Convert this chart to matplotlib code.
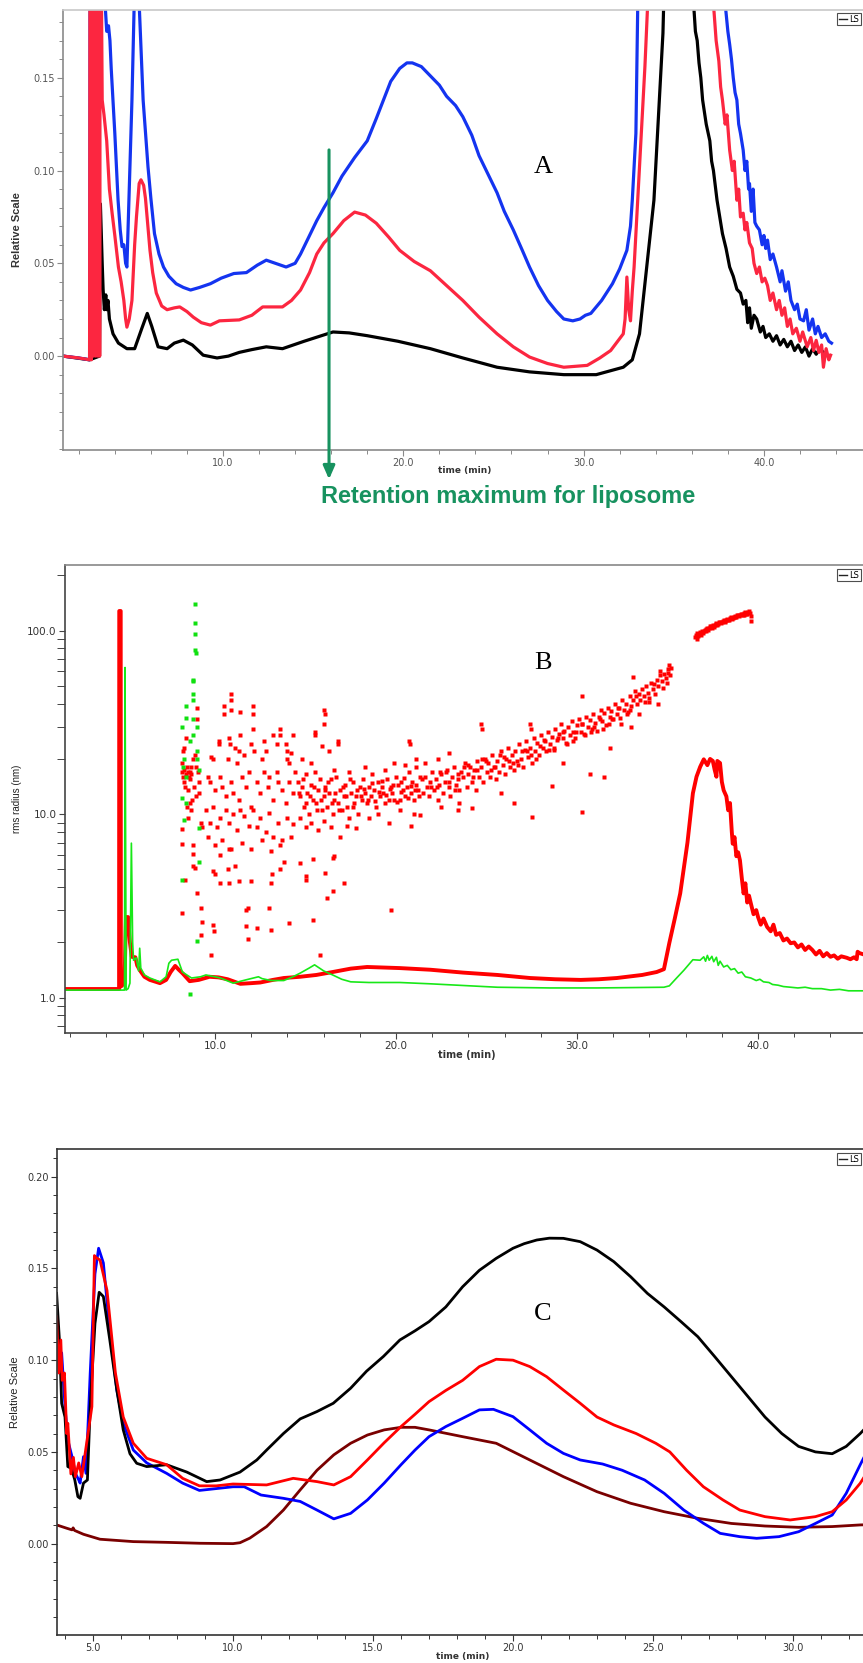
import numpy as np
import matplotlib
matplotlib.use("Agg")
import matplotlib.pyplot as plt
from matplotlib.ticker import MultipleLocator, FixedLocator, FormatStrFormatter, LogLocator, FuncFormatter, NullFormatter
from matplotlib.lines import Line2D

# ---------------- Panel A data (time min, relative scale) ----------------
a_black_t = [1.13, 2.6, 3.15, 3.2, 3.3, 3.35, 3.42, 3.5, 3.55, 3.62, 3.7, 3.9, 4.2, 4.67, 5.1, 5.5, 5.8, 6.05, 6.4, 6.9, 7.3, 7.8, 8.3, 8.9, 9.67, 10.3, 10.9, 11.6, 12.4, 13.3, 14.5, 15.3, 16.1, 17.0, 18.0, 19.7, 21.5, 23.3, 25.2, 27.0, 28.9, 30.7, 32.2, 32.7, 33.1, 33.5, 33.9, 34.1, 34.4, 34.6, 35.3, 35.9,
             36.1, 36.2, 36.3, 36.4, 36.5, 36.6, 36.8, 37.0, 37.1, 37.2, 37.4, 37.55, 37.7, 37.9, 38.1, 38.3, 38.5, 38.7, 38.85, 39.0, 39.1, 39.2, 39.3, 39.45, 39.6, 39.8, 39.95, 40.1, 40.3, 40.5, 40.7, 40.9, 41.1, 41.3, 41.5, 41.7, 41.9, 42.1, 42.3, 42.5, 42.7, 42.9, 43.1, 43.3]
a_black_v = [0.0, -0.002, 0.0, 0.082, 0.05, 0.036, 0.025, 0.033, 0.025, 0.03, 0.02, 0.012, 0.007, 0.004, 0.004, 0.015, 0.023, 0.016, 0.005, 0.004, 0.007, 0.0086, 0.006, 0.0005, -0.001, 0.0, 0.002, 0.0035, 0.005, 0.004, 0.008, 0.0105, 0.013, 0.0125, 0.011, 0.008, 0.004, -0.001, -0.006, -0.0085, -0.010, -0.010, -0.006, -0.002, 0.012, 0.048, 0.084, 0.12, 0.174, 0.25, 0.35, 0.25,
             0.19, 0.175, 0.17, 0.158, 0.15, 0.138, 0.125, 0.116, 0.105, 0.1, 0.084, 0.075, 0.066, 0.058, 0.048, 0.043, 0.036, 0.034, 0.028, 0.03, 0.018, 0.026, 0.015, 0.022, 0.02, 0.013, 0.016, 0.01, 0.012, 0.008, 0.011, 0.006, 0.009, 0.005, 0.008, 0.003, 0.006, 0.002, 0.005, 0.0, 0.004, 0.001, 0.004, 0.002]

a_blue_t = [1.13, 2.0, 2.6, 2.65, 3.3, 3.46, 3.55, 3.65, 3.73, 3.8, 3.9, 4.0, 4.1, 4.18, 4.3, 4.4, 4.5, 4.6, 4.67, 4.8, 4.95, 5.05, 5.1, 5.2, 5.3, 5.35, 5.57, 5.84, 6.0, 6.2, 6.45, 6.7, 7.0, 7.4, 7.8, 8.2, 8.7, 9.3, 9.9, 10.6, 11.3, 11.9, 12.4, 12.9, 13.5, 14.0, 14.3, 14.7, 15.2, 15.6, 16.1, 16.6, 17.3, 18.0, 18.5, 18.9, 19.3, 19.8, 20.2, 20.5, 21.0, 21.5, 22.0, 22.4, 22.9, 23.3, 23.8, 24.2, 24.7, 25.2, 25.6, 26.1, 26.6, 27.0, 27.5, 28.0, 28.5, 28.9, 29.4, 29.8, 30.1, 30.4, 31.0, 31.6, 32.0, 32.4, 32.6, 32.7, 32.9, 33.0, 33.5, 35.5, 37.5,
            37.85, 38.0, 38.1, 38.2, 38.3, 38.4, 38.5, 38.6, 38.7, 38.85, 38.95, 39.05, 39.15, 39.2, 39.3, 39.4, 39.5, 39.6, 39.75, 39.9, 40.0, 40.1, 40.2, 40.35, 40.5, 40.7, 40.9, 41.0, 41.2, 41.35, 41.5, 41.7, 41.85, 42.0, 42.2, 42.35, 42.5, 42.7, 42.85, 43.0, 43.2, 43.4, 43.6, 43.75]
a_blue_v = [0.0, -0.001, -0.002, 0.4, 0.4, 0.19, 0.175, 0.178, 0.17, 0.155, 0.138, 0.12, 0.1, 0.084, 0.068, 0.059, 0.06, 0.05, 0.048, 0.09, 0.138, 0.18, 0.2, 0.3, 0.25, 0.19, 0.138, 0.102, 0.085, 0.066, 0.055, 0.048, 0.043, 0.039, 0.037, 0.0356, 0.037, 0.039, 0.042, 0.0445, 0.045, 0.049, 0.0517, 0.05, 0.048, 0.05, 0.055, 0.063, 0.073, 0.08, 0.088, 0.097, 0.107, 0.116, 0.128, 0.138, 0.148, 0.155, 0.158, 0.158, 0.156, 0.151, 0.146, 0.14, 0.135, 0.129, 0.119, 0.108, 0.098, 0.088, 0.078, 0.068, 0.057, 0.048, 0.038, 0.030, 0.024, 0.020, 0.019, 0.020, 0.022, 0.023, 0.03, 0.039, 0.047, 0.057, 0.07, 0.084, 0.12, 0.19, 0.35, 0.45, 0.3,
            0.19, 0.175, 0.168, 0.16, 0.15, 0.142, 0.138, 0.125, 0.12, 0.111, 0.1, 0.105, 0.09, 0.093, 0.078, 0.09, 0.072, 0.07, 0.068, 0.06, 0.065, 0.058, 0.0625, 0.052, 0.055, 0.048, 0.04, 0.046, 0.035, 0.04, 0.03, 0.025, 0.028, 0.02, 0.019, 0.025, 0.014, 0.02, 0.012, 0.016, 0.01, 0.012, 0.008, 0.007]

a_red_t = [1.13, 2.0, 2.6, 2.64, 2.70, 2.76, 2.82, 2.88, 2.94, 3.0, 3.06, 3.12, 3.16, 3.2, 3.22, 3.3, 3.4, 3.55, 3.7, 3.85, 4.0, 4.2, 4.35, 4.5, 4.6, 4.67, 4.8, 4.95, 5.1, 5.2, 5.35, 5.45, 5.6, 5.7, 5.95, 6.1, 6.3, 6.6, 6.9, 7.3, 7.6, 8.0, 8.35, 8.8, 9.3, 9.8, 10.9, 11.6, 12.2, 13.3, 13.8, 14.3, 14.8, 15.2, 15.6, 16.1, 16.7, 17.3, 17.9, 18.5, 19.2, 19.8, 20.6, 21.5, 22.4, 23.3, 24.2, 25.2, 26.1, 27.0, 28.0, 28.9, 30.2, 30.9, 31.5, 32.2, 32.3, 32.4, 32.5, 32.6, 32.7, 32.8, 33.1, 33.4, 33.6, 34.5, 35.5, 36.5,
           37.2, 37.35, 37.5, 37.6, 37.7, 37.85, 37.95, 38.1, 38.25, 38.35, 38.5, 38.6, 38.7, 38.85, 38.95, 39.05, 39.2, 39.35, 39.45, 39.6, 39.75, 39.9, 40.05, 40.2, 40.35, 40.5, 40.7, 40.85, 41.0, 41.15, 41.3, 41.45, 41.6, 41.8, 42.0, 42.15, 42.4, 42.6, 42.75, 42.9, 43.05, 43.2, 43.3, 43.45, 43.6, 43.7]
a_red_v = [0.0, -0.001, -0.002, 0.4, -0.002, 0.4, 0.0, 0.4, 0.0, 0.4, 0.0, 0.4, 0.0, 0.4, 0.25, 0.138, 0.13, 0.116, 0.09, 0.077, 0.065, 0.048, 0.04, 0.030, 0.02, 0.0156, 0.02, 0.030, 0.06, 0.075, 0.093, 0.095, 0.092, 0.085, 0.057, 0.045, 0.034, 0.027, 0.025, 0.026, 0.0265, 0.024, 0.021, 0.018, 0.0167, 0.019, 0.0195, 0.022, 0.0265, 0.0265, 0.03, 0.0356, 0.045, 0.055, 0.061, 0.066, 0.073, 0.0776, 0.076, 0.0716, 0.064, 0.057, 0.051, 0.046, 0.038, 0.030, 0.021, 0.012, 0.005, -0.0005, -0.004, -0.006, -0.005, -0.001, 0.003, 0.012, 0.02, 0.0426, 0.025, 0.019, 0.035, 0.048, 0.102, 0.156, 0.20, 0.35, 0.4, 0.3,
           0.19, 0.17, 0.159, 0.145, 0.138, 0.125, 0.13, 0.111, 0.1, 0.105, 0.084, 0.09, 0.075, 0.077, 0.068, 0.072, 0.061, 0.058, 0.05, 0.0445, 0.048, 0.04, 0.042, 0.038, 0.03, 0.034, 0.025, 0.03, 0.022, 0.026, 0.016, 0.02, 0.012, 0.015, 0.008, 0.013, 0.005, 0.01, 0.003, 0.0085, 0.002, 0.006, -0.006, 0.004, -0.002, 0.0005]

# ---------------- Panel B data (time min, rms radius nm) ----------------
b_red_t = [1.7, 4.70, 4.71, 4.79, 4.80, 5.0, 5.08, 5.2, 5.3, 5.4, 5.6, 5.7, 5.85, 6.1, 6.4, 6.96, 7.3, 7.55, 7.8, 8.0, 8.2, 8.6, 9.1, 9.7, 10.2, 10.7, 11.4, 12.0, 12.5, 13.2, 13.8, 14.7, 15.6, 16.5, 17.5, 18.4, 19.3, 20.2, 21.9, 23.7, 25.6, 27.4, 28.8, 30.2, 31.2, 32.2, 33.6, 34.4, 34.8, 35.1, 35.4, 35.7, 36.1, 36.4, 36.6, 36.8, 37.0, 37.2, 37.35, 37.5, 37.6, 37.7, 37.75, 37.9, 38.0, 38.1, 38.25, 38.35, 38.45, 38.55, 38.6, 38.7, 38.8, 38.9, 39.0, 39.1, 39.2, 39.3, 39.4, 39.5, 39.6, 39.75, 39.9, 40.0, 40.15, 40.3, 40.5, 40.7, 40.85, 41.0, 41.2, 41.4, 41.6, 41.8, 42.0, 42.2, 42.4, 42.6, 42.8, 43.0, 43.2, 43.4, 43.6, 43.8, 44.0, 44.2, 44.4, 44.6, 44.9, 45.1, 45.3, 45.45, 45.5, 45.6, 46.0]
b_red_r = [1.115, 1.115, 128, 128, 1.15, 1.2, 2.75, 2.75, 2.0, 1.67, 1.66, 1.5, 1.41, 1.3, 1.25, 1.2, 1.25, 1.38, 1.49, 1.42, 1.36, 1.23, 1.25, 1.30, 1.29, 1.26, 1.19, 1.2, 1.21, 1.25, 1.28, 1.3, 1.33, 1.38, 1.44, 1.47, 1.46, 1.45, 1.42, 1.37, 1.33, 1.28, 1.26, 1.25, 1.26, 1.28, 1.33, 1.38, 1.43, 1.99, 2.7, 3.7, 7.0, 13.0, 16, 18.1, 19.9, 18.5, 20, 19.5, 17.5, 16, 19.5, 19, 15, 13.5, 12.5, 10.5, 11.5, 8, 6.9, 7.5, 5.9, 6.2, 5.6, 4.5, 3.7, 4.2, 3.3, 3.6, 3.27, 2.85, 3.0, 2.75, 2.5, 2.7, 2.43, 2.3, 2.5, 2.2, 2.25, 2.05, 2.1, 1.98, 2.0, 1.88, 1.95, 1.82, 1.9, 1.82, 1.72, 1.8, 1.68, 1.75, 1.67, 1.7, 1.63, 1.68, 1.65, 1.62, 1.66, 1.62, 1.78, 1.75, 1.7]

b_green_t = [1.7, 5.0, 5.03, 5.09, 5.2, 5.3, 5.38, 5.45, 5.5, 5.65, 5.78, 5.84, 5.9, 6.1, 6.4, 6.96, 7.3, 7.45, 7.6, 7.95, 8.2, 8.7, 9.2, 9.5, 10.0, 10.3, 11.0, 11.7, 12.4, 12.6, 13.1, 13.8, 14.3, 14.7, 15.2, 15.5, 16.0, 16.5, 17.0, 17.5, 18.5, 20.2, 21.9, 25.6, 28.5, 31.1, 33.0, 34.8, 35.1, 35.5, 35.9, 36.4, 36.8, 37.0, 37.1, 37.2, 37.3, 37.45, 37.55, 37.7, 37.8, 37.9, 38.1, 38.3, 38.5, 38.7, 38.9, 39.1, 39.3, 39.6, 39.9, 40.1, 40.3, 40.6, 40.8, 41.1, 41.4, 41.8, 42.2, 42.6, 43.0, 43.5, 44.0, 44.5, 45.0, 46.0]
b_green_r = [1.1, 1.1, 63, 1.1, 1.12, 1.2, 6.95, 2.0, 1.6, 1.65, 1.4, 1.86, 1.45, 1.33, 1.28, 1.22, 1.3, 1.54, 1.6, 1.62, 1.38, 1.28, 1.3, 1.33, 1.3, 1.28, 1.2, 1.25, 1.3, 1.27, 1.24, 1.24, 1.3, 1.36, 1.45, 1.51, 1.4, 1.33, 1.26, 1.22, 1.21, 1.21, 1.19, 1.14, 1.13, 1.13, 1.135, 1.14, 1.16, 1.28, 1.41, 1.61, 1.6, 1.67, 1.58, 1.7, 1.6, 1.68, 1.57, 1.66, 1.5, 1.58, 1.47, 1.5, 1.42, 1.44, 1.36, 1.38, 1.3, 1.28, 1.24, 1.26, 1.22, 1.21, 1.18, 1.17, 1.15, 1.14, 1.13, 1.14, 1.12, 1.12, 1.10, 1.11, 1.09, 1.09]

b_gdot_t = [8.9, 8.9, 8.9, 8.9, 8.95, 8.8, 8.8, 8.8, 8.8, 8.4, 8.4, 8.2, 8.3, 8.25, 8.6, 8.8, 8.8, 9.0, 9.0, 9.1, 8.4, 8.2, 8.4, 8.3, 9.0, 9.1, 8.2, 9.1, 9.0, 8.6]
b_gdot_r = [140, 110, 96, 78, 76, 54, 53, 45, 42, 39, 33.6, 30, 20, 18, 25, 33, 27, 30, 22, 17.4, 16, 12.2, 11.5, 9.3, 20, 8.4, 4.4, 5.5, 2.04, 1.05]

b_dot_t = [
    8.2, 8.2, 8.25, 8.3, 8.3, 8.25, 8.3, 8.4, 8.35, 8.4, 8.45, 8.5, 8.55, 8.6, 8.6, 8.65, 8.7, 8.75, 8.8, 8.85, 8.9, 8.95, 9.0, 9.0, 9.05, 9.1, 9.1,
    8.2, 8.18, 8.2, 8.35, 8.45, 8.5, 8.6, 8.8, 8.8, 8.8, 8.9, 9.0, 9.25, 9.3, 9.25, 9.2, 9.3, 8.7, 8.95, 8.5,
    10.9, 10.9, 10.9, 10.5, 10.5, 11.4, 12.1, 12.1, 10.2, 10.2, 10.8, 10.85, 11.4, 11.1, 11.35, 11.6, 12.1, 12.0, 12.15, 12.7, 12.6, 12.8, 13.2, 13.6, 13.6, 13.4, 13.9, 13.95, 14.0, 14.2, 14.3, 14.1, 9.9, 9.8, 10.7, 11.2,
    9.6, 9.7, 10.0, 10.3, 10.4, 10.6, 10.9, 11.0, 11.3, 11.5, 11.7, 11.9, 12.0, 12.3, 12.5, 12.7, 12.9, 13.0, 13.2, 13.4, 13.5, 13.7, 13.9, 14.1, 14.3, 14.4,
    9.5, 9.7, 9.9, 10.1, 10.3, 10.6, 10.8, 11.0, 11.2, 11.4, 11.6, 11.9, 12.1, 12.3, 12.5, 12.8, 13.0, 13.2, 13.5, 13.7, 14.0, 14.3,
    9.6, 10.0, 10.4, 10.9, 11.5, 12.0, 12.6, 13.1, 13.6, 14.2,
    9.9, 10.0, 10.3, 10.8, 10.7, 11.1, 10.8, 10.3, 11.3, 11.7, 11.8, 11.7, 11.8, 12.0, 12.3, 13.0, 13.1, 13.1, 13.15, 13.6, 13.8, 14.1, 9.9, 9.95, 9.76, 14.7, 15.0, 15.05, 15.4, 15.4, 15.8, 16.1, 16.2, 16.5, 17.1, 16.5, 16.55, 19.7,
    16.0, 16.05, 16.0, 15.5, 15.55, 16.8, 16.8, 15.9, 16.3, 14.8, 15.3, 20.7, 20.75, 21.1, 21.1,
    14.6, 14.7, 14.8, 14.9, 15.0, 15.1, 15.2, 15.3, 15.4, 15.5, 15.6, 15.7, 15.8, 15.9, 16.0, 14.7, 15.0, 15.3, 15.7, 16.0,
    16.1, 16.2, 16.3, 16.4, 16.5, 16.6, 16.7, 16.8, 16.9, 17.0, 17.1, 17.2, 17.3, 17.4, 17.5, 17.6, 17.7, 17.8, 17.9, 18.0, 16.4, 16.9, 17.3, 17.8, 16.6, 17.4,
    18.1, 18.2, 18.3, 18.4, 18.5, 18.6, 18.7, 18.8, 18.9, 19.0, 19.1, 19.2, 19.3, 19.4, 19.5, 19.6, 19.7, 19.8, 19.9, 20.0, 20.1, 20.2, 20.3, 20.4, 20.5, 20.6, 20.7, 20.8, 20.9, 21.0, 21.1, 21.2, 21.3, 18.5, 19.0, 19.6, 20.2, 20.8, 21.0, 18.3, 19.4, 20.5, 19.9,
    14.65, 14.85, 15.05, 15.25, 15.45, 15.65, 15.85, 16.05, 16.25, 16.45, 16.65, 16.85, 17.05, 17.25, 17.45, 17.65, 17.85, 18.05, 18.25, 18.45, 18.65, 18.85, 19.05, 19.25, 19.45, 19.65, 19.85, 20.05, 20.25, 20.45, 20.65, 20.85, 21.05, 21.25,
    21.5, 21.6, 21.7, 21.8, 21.9, 22.0, 22.1, 22.2, 22.3, 22.4, 22.5, 22.6, 22.7, 22.8, 22.9, 23.0, 23.1, 23.2, 23.3, 23.4, 23.5, 23.6, 23.7, 23.8, 23.9, 24.0, 24.1, 24.2, 24.3, 24.4, 24.5, 24.6, 24.7, 24.8, 24.9, 25.0, 25.1, 25.2, 25.3, 25.4, 25.5, 25.6, 25.7, 25.8, 25.9, 26.0, 26.1, 26.2, 26.3, 26.4, 26.5, 26.6, 26.7, 26.8, 26.9, 27.0, 27.1, 27.2, 27.3, 27.4, 27.5, 27.6, 27.7, 27.8, 27.9, 28.0, 28.1, 28.2, 28.3, 28.4, 28.5, 28.6, 28.7, 28.8, 28.9, 29.0, 29.1, 29.2, 29.3, 29.4, 29.5, 29.6, 29.7, 29.8, 29.9, 30.0, 30.1, 30.2, 30.3, 30.4, 30.5, 30.6, 30.7, 30.8, 30.9, 31.0, 31.1, 31.2, 31.3, 31.4, 31.5, 31.6, 31.7, 31.8, 31.9, 32.0, 32.1, 32.2, 32.3, 32.4, 32.5, 32.6, 32.7, 32.8, 32.9, 33.0, 33.1, 33.2, 33.3, 33.4, 33.5, 33.6, 33.7, 33.8, 33.9, 34.0, 34.1, 34.2, 34.3, 34.4, 34.5, 34.6, 34.7, 34.8, 34.9, 35.0, 35.05, 35.1, 35.15, 35.2,
    24.7, 24.75, 27.4, 27.45, 30.3, 33.1, 34.6, 27.5, 30.3, 31.5, 21.3, 24.2, 26.5, 28.6, 30.7, 22.5, 23.5, 25.8, 29.2, 31.8, 33.0, 21.6, 22.3, 22.9, 23.4,
    21.45, 21.95, 22.45, 22.95, 23.45, 23.95, 24.45, 24.95, 25.45, 25.95, 26.45, 26.95, 27.45, 27.95, 28.45, 28.95, 29.45, 29.95, 30.45, 30.95, 31.45, 31.95, 32.45, 32.95, 33.45, 33.95, 34.45, 34.95,
    22.25, 22.75, 23.25, 23.75, 24.25, 24.75, 25.25, 25.75, 26.25, 26.75, 27.25, 27.75, 28.25, 28.75, 29.25, 29.75, 30.25, 30.75, 31.25, 31.75, 32.25, 32.75, 33.25, 33.75, 34.25, 34.75,
    36.5, 36.55, 36.6, 36.65, 36.7, 36.8, 36.85, 36.9, 37.0, 37.1, 37.15, 37.2, 37.3, 37.4, 37.45, 37.5, 37.6, 37.7, 37.8, 37.9, 38.0, 38.1, 38.2, 38.3, 38.4, 38.5, 38.6, 38.7, 38.8, 38.9, 39.0, 39.1, 39.2, 39.3, 39.4, 39.5, 39.55, 39.6, 39.6,
    36.75, 36.95, 37.05, 37.25, 37.35, 37.55, 37.65, 37.75, 37.85, 37.95, 38.05, 38.15, 38.25, 38.35, 38.45, 38.55, 38.65, 38.75, 38.85, 38.95, 39.05, 39.15, 39.25, 39.35, 39.45]
b_dot_r = [
    19, 17, 16, 17.5, 15, 22, 23, 26, 14, 16.5, 18, 17, 16, 15.5, 17, 18, 16.5, 12, 20, 14, 21, 18, 38, 33, 17, 15, 13,
    8.3, 6.9, 2.9, 4.4, 11, 9.5, 11.5, 6.8, 6.1, 5.2, 5.1, 3.7, 3.1, 2.6, 2.2, 9.0, 8.5, 10.5, 12.5, 13.5,
    45, 42, 37, 39, 35, 36, 39, 35, 25, 24, 26, 24, 27, 23, 22, 21, 29, 24, 22, 25, 20, 22, 27, 29, 27, 24, 24, 22, 20, 21.5, 27, 19, 20, 20.5, 20, 19,
    16, 15, 13.5, 16, 14, 12.5, 15, 13, 12, 16, 14, 17, 11, 15, 13, 17, 14, 16, 12, 17, 15, 13.5, 11.5, 15, 13, 17,
    10.5, 9, 11, 8.5, 9.5, 10.5, 9, 10, 8.2, 10.5, 9.8, 8.6, 10.5, 8.5, 9.5, 8, 10.2, 7.5, 9, 7.2, 9.5, 8.8,
    7.5, 6.8, 7.2, 6.5, 7.0, 6.5, 7.2, 6.3, 6.8, 7.5,
    4.9, 4.7, 4.2, 4.2, 5.0, 5.2, 6.5, 6.0, 4.3, 3.0, 3.1, 2.45, 2.1, 4.3, 2.4, 3.1, 2.35, 4.2, 4.7, 5.0, 5.5, 2.55, 2.5, 2.3, 1.7, 5.4, 4.4, 4.6, 5.7, 2.65, 1.7, 4.8, 3.5, 3.8, 4.2, 5.8, 5.9, 3.0,
    37, 35, 31, 28, 27, 25, 24, 23.5, 22, 20, 19, 25, 24, 20, 18,
    15, 12.5, 14, 11, 16.5, 13, 10, 14.5, 12, 17, 11.5, 13.5, 15.5, 10.5, 12.5, 9.5, 8.5, 9, 8.2, 9.2,
    14, 11, 13, 15.5, 10, 12, 16, 11.5, 13.5, 10.5, 12.5, 14.5, 11, 9.5, 13, 15, 11.5, 12.5, 10, 14, 8.5, 7.5, 8.6, 8.4, 17.5, 17,
    12, 15.5, 13, 11.5, 14, 12.5, 16.5, 13.5, 11, 15, 12.5, 14, 13, 11.5, 15.5, 12, 14, 13, 12, 16, 14.5, 12, 15, 13.5, 12.5, 14, 17, 13, 15, 12, 14.5, 13.5, 16, 9.5, 10, 9, 10.5, 8.6, 10, 18, 17.5, 18.5, 19,
    13, 15.5, 11.5, 12.5, 14, 10.5, 12, 13.5, 15, 11.5, 13, 10.5, 14, 12.5, 15.5, 11, 13.5, 12.5, 13.8, 12, 14.8, 11.8, 13.2, 15.2, 12.8, 13.8, 14.5, 11.6, 13.2, 15.8, 12.2, 14.2, 13.6, 12.6,
    13, 16, 14, 12.5, 15, 17, 13.5, 15.5, 12, 14.5, 16.5, 13, 15, 17.5, 14, 12.5, 16, 18, 14.5, 15.5, 13.5, 17, 16, 19, 14, 16.5, 18, 15, 17.5, 13.5, 19.5, 16, 18, 15, 20, 17, 19, 16, 21, 18, 15.5, 19.5, 17, 22, 18.5, 16.5, 20, 23, 18, 21, 17.5, 22, 19.5, 24, 20, 18, 22.5, 25, 20.5, 23, 19, 26, 22, 24.5, 21, 27, 23, 25.5, 22, 28, 24, 26.5, 23, 29, 25.5, 27.5, 31, 26, 28.5, 24.5, 30, 27, 32, 28, 26, 30.5, 33, 28, 31, 27.5, 34, 30, 32.5, 29, 35, 31.5, 28.5, 34, 37, 32, 35.5, 30.5, 38, 34, 36.5, 33, 40, 35, 38, 33.5, 42, 37, 40, 36, 44, 39, 42, 47, 40, 45, 42, 48, 44, 50, 46, 43, 52, 48, 45, 54, 50, 57, 53, 58, 55, 62, 59, 65, 57, 63,
    31, 29, 31, 29, 44, 56, 60, 9.6, 10.3, 16, 9.9, 10.8, 11.5, 14.3, 16.5, 11, 11.5, 13, 19, 23, 30, 19, 20, 21.5, 10.5,
    15.5, 14, 17, 15, 16.5, 18.5, 17.5, 19.5, 18, 20.5, 19, 22, 21, 23.5, 22.5, 26, 24, 28, 27, 30, 29, 33, 31, 37, 35, 41, 40, 52,
    14, 17, 13.5, 18, 16, 20, 17.5, 21, 19.5, 18.5, 22, 20, 25, 22.5, 28, 25, 31, 28, 33, 31, 38, 35, 44, 41, 51, 49,
    92, 95, 90, 97, 94, 98, 95, 100, 99, 102, 100, 104, 103, 106, 104, 108, 107, 110, 109, 112, 111, 114, 113, 116, 115, 118, 117, 120, 119, 122, 121, 124, 122, 126, 124, 128, 125, 120, 113,
    96, 97, 101, 101, 106, 105, 109, 107, 111, 110, 113, 112, 115, 114, 117, 116, 119, 118, 121, 120, 123, 122, 125, 123, 127]

# ---------------- Panel C data (time min, relative scale) ----------------
c_black_t = [3.7, 3.8, 3.88, 4.0, 4.1, 4.23, 4.35, 4.46, 4.54, 4.66, 4.8, 4.9, 5.07, 5.22, 5.37, 5.6, 5.85, 6.08, 6.32, 6.56, 6.92, 7.63, 8.35, 9.06, 9.54, 10.25, 10.85, 11.2, 11.8, 12.4, 13.0, 13.58, 14.2, 14.77, 15.37, 15.96, 16.5, 17.0, 17.6, 18.2, 18.8, 19.4, 20.0, 20.4, 20.85, 21.3, 21.8, 22.4, 23.0, 23.6, 24.2, 24.8, 25.4, 26.0, 26.6, 27.2, 27.8, 28.4, 29.0, 29.6, 30.2, 30.8, 31.4, 31.9, 32.4, 32.9]
c_black_v = [0.1364, 0.111, 0.0765, 0.069, 0.042, 0.041, 0.0347, 0.0256, 0.0247, 0.033, 0.0347, 0.0747, 0.12, 0.137, 0.1347, 0.111, 0.0838, 0.062, 0.049, 0.0438, 0.042, 0.043, 0.039, 0.0338, 0.0347, 0.039, 0.0456, 0.051, 0.060, 0.068, 0.072, 0.0765, 0.0847, 0.094, 0.102, 0.111, 0.116, 0.121, 0.129, 0.140, 0.149, 0.1555, 0.161, 0.1635, 0.1655, 0.1665, 0.1664, 0.1646, 0.160, 0.1537, 0.1455, 0.1364, 0.129, 0.121, 0.1128, 0.102, 0.091, 0.080, 0.069, 0.060, 0.053, 0.050, 0.049, 0.053, 0.060, 0.068]

c_red_t = [3.7, 3.78, 3.85, 3.9, 3.98, 4.06, 4.1, 4.21, 4.3, 4.37, 4.49, 4.6, 4.96, 5.05, 5.1, 5.25, 5.5, 5.8, 6.08, 6.44, 6.92, 7.63, 8.2, 8.8, 9.4, 10.0, 11.2, 12.15, 13.0, 13.6, 14.2, 14.8, 15.4, 16.0, 16.5, 17.0, 17.6, 18.2, 18.8, 19.4, 20.0, 20.6, 21.2, 21.8, 22.4, 23.0, 23.6, 24.4, 25.1, 25.6, 26.2, 26.8, 27.5, 28.1, 29.0, 29.9, 30.8, 31.4, 31.9, 32.4, 32.9]
c_red_v = [0.1237, 0.093, 0.111, 0.089, 0.093, 0.060, 0.0656, 0.038, 0.047, 0.0365, 0.044, 0.0365, 0.0747, 0.157, 0.156, 0.1546, 0.138, 0.093, 0.069, 0.0547, 0.0465, 0.043, 0.0356, 0.0315, 0.0315, 0.0325, 0.032, 0.0356, 0.0338, 0.032, 0.0365, 0.0456, 0.055, 0.0638, 0.0705, 0.0774, 0.0835, 0.089, 0.0965, 0.1005, 0.100, 0.0965, 0.091, 0.0837, 0.0765, 0.069, 0.0647, 0.060, 0.0547, 0.050, 0.040, 0.031, 0.0238, 0.0183, 0.0147, 0.0129, 0.0147, 0.0174, 0.0238, 0.0329, 0.045]

c_blue_t = [3.7, 3.82, 3.88, 4.0, 4.1, 4.25, 4.37, 4.49, 4.54, 4.66, 4.75, 4.9, 5.07, 5.2, 5.37, 5.6, 5.85, 6.08, 6.44, 6.92, 7.63, 8.2, 8.8, 9.4, 10.0, 10.4, 11.0, 11.8, 12.4, 13.0, 13.6, 14.2, 14.8, 15.4, 16.0, 16.5, 17.0, 17.6, 18.2, 18.8, 19.3, 20.0, 20.6, 21.2, 21.8, 22.4, 23.2, 23.9, 24.7, 25.4, 26.1, 26.8, 27.4, 28.1, 28.7, 29.5, 30.2, 30.8, 31.4, 31.9, 32.4, 32.9]
c_blue_v = [0.1255, 0.0965, 0.104, 0.0747, 0.0565, 0.0474, 0.0383, 0.0347, 0.033, 0.0474, 0.0383, 0.093, 0.147, 0.161, 0.153, 0.116, 0.0838, 0.0656, 0.051, 0.044, 0.0383, 0.033, 0.029, 0.030, 0.031, 0.031, 0.0265, 0.0247, 0.023, 0.0183, 0.0135, 0.0165, 0.0238, 0.033, 0.043, 0.051, 0.0583, 0.0638, 0.0683, 0.0729, 0.0732, 0.0692, 0.062, 0.0547, 0.0492, 0.0456, 0.0434, 0.040, 0.0347, 0.0274, 0.0183, 0.0111, 0.0056, 0.0038, 0.0029, 0.0038, 0.0065, 0.011, 0.0156, 0.0274, 0.043, 0.058]

c_maroon_t = [3.7, 4.06, 4.25, 4.29, 4.34, 4.66, 5.25, 6.44, 7.63, 8.82, 10.0, 10.25, 10.6, 11.2, 11.8, 12.4, 13.0, 13.6, 14.2, 14.8, 15.4, 16.0, 16.5, 17.0, 18.2, 19.4, 20.6, 21.8, 23.0, 24.2, 25.4, 26.6, 27.8, 29.0, 30.2, 31.4, 32.4, 32.9]
c_maroon_v = [0.0102, 0.0084, 0.0075, 0.0086, 0.0072, 0.0051, 0.0024, 0.0011, 0.0007, 0.0002, 0.0, 0.0005, 0.003, 0.0093, 0.0183, 0.0293, 0.040, 0.0484, 0.0547, 0.0592, 0.062, 0.0634, 0.0634, 0.062, 0.0583, 0.0547, 0.0456, 0.0365, 0.0283, 0.022, 0.0174, 0.0138, 0.011, 0.0096, 0.0089, 0.0093, 0.0102, 0.0104]

a_yticks = [0.0, 0.05, 0.10, 0.15]
c_yticks = [0.0, 0.05, 0.10, 0.15, 0.20]

W, H = 863, 1663
fig = plt.figure(figsize=(W / 100, H / 100), dpi=100)
fig.patch.set_facecolor("white")


def axes_px(left, top, right, bottom):
    return fig.add_axes([left / W, 1 - bottom / H, (right - left) / W, (bottom - top) / H])


def style(ax, spine_col, lab_col, fs):
    for s in ["left", "bottom", "top"]:
        ax.spines[s].set_color(spine_col)
        ax.spines[s].set_linewidth(1.2)
    ax.spines["right"].set_visible(False)
    ax.tick_params(which="major", direction="out", length=4, width=0.8, colors=spine_col,
                   labelcolor=lab_col, labelsize=fs, pad=2)
    ax.tick_params(which="minor", direction="out", length=3, width=0.7, colors=spine_col)
    ax.tick_params(axis="y", which="both", right=False)
    ax.tick_params(axis="x", which="both", top=False)


def add_ls(ax, top_px):
    h = Line2D([], [], color="#222222", lw=1.0)
    lg = ax.legend([h], ["LS"], loc="upper right", fontsize=6, frameon=True, fancybox=False,
                   handlelength=1.0, handletextpad=0.3, borderpad=0.2, borderaxespad=0.0,
                   bbox_to_anchor=(861 / W, 1 - top_px / H), bbox_transform=fig.transFigure)
    lg.get_frame().set_edgecolor("#222222")
    lg.get_frame().set_linewidth(0.8)


# ---------------- Panel A ----------------
axA = axes_px(63, 10, 873, 450)
axA.plot(a_black_t, a_black_v, color="black", lw=2.3)
axA.plot(a_blue_t, a_blue_v, color="#1434f0", lw=2.3)
axA.plot(a_red_t, a_red_v, color="#fc2640", lw=2.3)
axA.set_xlim(1.126, 46.05)
axA.set_ylim(-0.0506, 0.1865)
axA.xaxis.set_major_locator(MultipleLocator(10))
axA.xaxis.set_minor_locator(MultipleLocator(2))
axA.yaxis.set_major_locator(FixedLocator(a_yticks))
axA.yaxis.set_minor_locator(MultipleLocator(0.01))
axA.xaxis.set_major_formatter(FormatStrFormatter("%.1f"))
axA.yaxis.set_major_formatter(FormatStrFormatter("%.2f"))
style(axA, "#8a8a8a", "#555555", 7)
axA.spines["top"].set_color("#c8c8c8")
add_ls(axA, 13)
axA.text(27.75, 0.1018, "A", family="Liberation Serif", fontsize=19, ha="center", va="center")
axA.annotate("", xy=(15.88, -0.0679), xytext=(15.88, 0.1126), xycoords="data",
             arrowprops=dict(arrowstyle="-|>,head_length=0.8,head_width=0.35", color="#17925f", lw=2.2),
             annotation_clip=False)
fig.text(508 / W, 1 - 496 / H, "Retention maximum for liposome", color="#17925f", fontsize=17,
         fontweight="bold", family="Liberation Sans", ha="center", va="center")
fig.text(17 / W, 1 - 230 / H, "Relative Scale", rotation=90, fontsize=8, family="Liberation Sans",
         color="#333333", ha="center", va="center", fontweight="bold")
fig.text(465 / W, 1 - 471 / H, "time (min)", fontsize=6.5, fontweight="bold", color="#333333",
         ha="center", va="center")

# ---------------- Panel B ----------------
axB = axes_px(65, 565, 873, 1033)
axB.set_yscale("log")
axB.plot(b_dot_t, b_dot_r, "s", ms=2.5, color="#ff0000", mec="none")
axB.plot(b_gdot_t, b_gdot_r, "s", ms=2.2, color="#10e010", mec="none")
axB.plot(b_red_t, b_red_r, color="#ff0000", lw=2.8)
axB.plot(b_green_t, b_green_r, color="#18e818", lw=1.2)
axB.set_xlim(1.713, 46.35)
axB.set_ylim(0.642, 228)
axB.xaxis.set_major_locator(MultipleLocator(10))
axB.xaxis.set_minor_locator(MultipleLocator(2))
axB.xaxis.set_major_formatter(FormatStrFormatter("%.1f"))
axB.yaxis.set_major_locator(LogLocator(base=10, numticks=10))
axB.yaxis.set_minor_locator(LogLocator(base=10, subs=np.arange(2, 10), numticks=20))
axB.yaxis.set_major_formatter(FuncFormatter(lambda v, p: "%.1f" % v))
axB.yaxis.set_minor_formatter(NullFormatter())
style(axB, "#444444", "#333333", 7.5)
axB.tick_params(axis="y", which="minor", length=6)
axB.spines["top"].set_color("#888888")
add_ls(axB, 569)
axB.text(28.1, 66.7, "B", family="Liberation Serif", fontsize=19, ha="center", va="center")
fig.text(17 / W, 1 - 799 / H, "rms radius (nm)", rotation=90, fontsize=7, family="Liberation Sans",
         color="#222222", ha="center", va="center")
fig.text(467 / W, 1 - 1055 / H, "time (min)", fontsize=7, fontweight="bold", color="#333333",
         ha="center", va="center")

# ---------------- Panel C ----------------
axC = axes_px(57, 1149, 873, 1635)
axC.plot(c_maroon_t, c_maroon_v, color="#7a0000", lw=2.0)
axC.plot(c_blue_t, c_blue_v, color="#0000ff", lw=2.0)
axC.plot(c_black_t, c_black_v, color="black", lw=2.0)
axC.plot(c_red_t, c_red_v, color="#ff0000", lw=2.0)
axC.set_xlim(3.714, 32.857)
axC.set_ylim(-0.0498, 0.2151)
axC.xaxis.set_major_locator(MultipleLocator(5))
axC.xaxis.set_minor_locator(MultipleLocator(1))
axC.yaxis.set_major_locator(FixedLocator(c_yticks))
axC.yaxis.set_minor_locator(MultipleLocator(0.01))
axC.xaxis.set_major_formatter(FormatStrFormatter("%.1f"))
axC.yaxis.set_major_formatter(FormatStrFormatter("%.2f"))
style(axC, "#333333", "#333333", 7)
add_ls(axC, 1153)
axC.text(21.07, 0.1252, "C", family="Liberation Serif", fontsize=19, ha="center", va="center")
fig.text(15 / W, 1 - 1392 / H, "Relative Scale", rotation=90, fontsize=8, family="Liberation Sans",
         color="#222222", ha="center", va="center")
fig.text(463 / W, 1 - 1656 / H, "time (min)", fontsize=6.5, fontweight="bold", color="#333333",
         ha="center", va="center")

fig.savefig("out.png", dpi=100, facecolor="white")
